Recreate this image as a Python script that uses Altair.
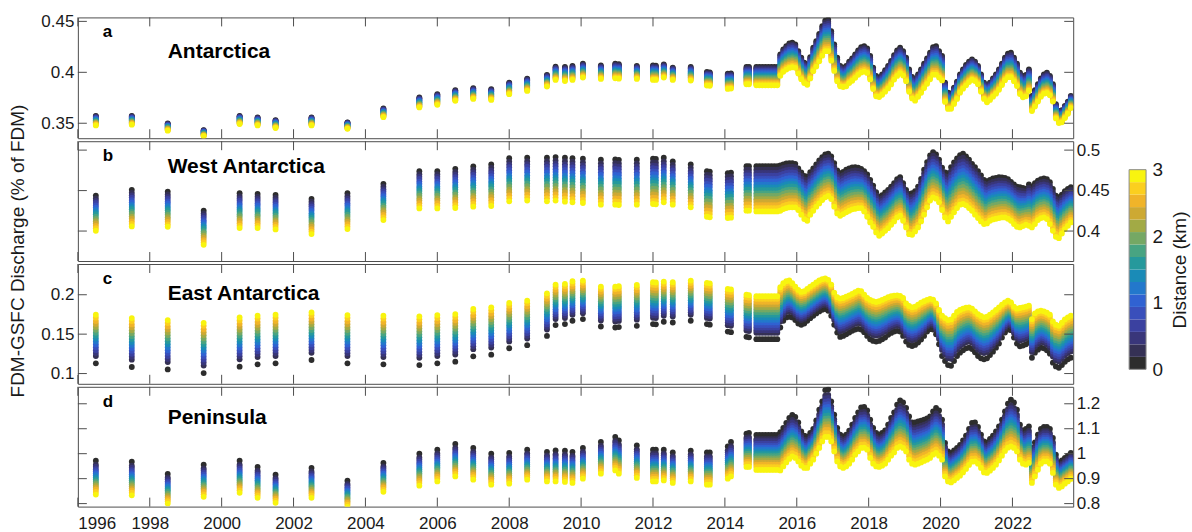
import altair as alt
import pandas as pd

alt.data_transformers.disable_max_rows()

FONT = "Liberation Sans"
W = 997

# ---------------- time axes ----------------
years_sparse = [1996.5, 1997.5, 1998.5, 1999.5, 2000.5, 2001.0, 2001.5, 2002.5, 2003.5, 2004.5,
                2005.5, 2006.0, 2006.5, 2007.0, 2007.5, 2008.0, 2008.5, 2009.05, 2009.29, 2009.55,
                2009.76, 2010.05, 2010.55, 2010.95, 2011.05, 2011.55, 2012.0, 2012.08, 2012.3, 2012.55,
                2013.05, 2013.5, 2013.58, 2014.08, 2014.17, 2014.6, 2014.67]
years_dense = [round(2014.875 + k / 12, 4) for k in range(106)]  # monthly samples

x_ticks = [1996, 1998, 2000, 2002, 2004, 2006, 2008, 2010, 2012, 2014, 2016, 2018, 2020, 2022]

# distance classes (km) and colours
dist_km = [0.0, 0.2, 0.4, 0.6, 0.8, 1.0, 1.2, 1.4, 1.6, 1.8, 2.0, 2.2, 2.4, 2.6, 2.8, 3.0]
palette = ["#2d2d2d", "#353155", "#39367a", "#3b41a0", "#394fbb", "#3062d2", "#2378cc", "#1a8bb7",
           "#26999c", "#48a482", "#75a864", "#a2aa45", "#cda933", "#f0b429", "#fbcf1f", "#f8f40f"]

# ---------------- panel a : Antarctica ----------------
a_sp_d0 = [0.3573, 0.3573, 0.3499, 0.3433, 0.3573, 0.3557, 0.3531, 0.3557, 0.3509, 0.3645,
           0.3753, 0.3785, 0.3824, 0.3844, 0.3834, 0.3899, 0.3938, 0.3974, 0.4055, 0.4052,
           0.4062, 0.4085, 0.4068, 0.4085, 0.4080, 0.4062, 0.4068, 0.4065, 0.4078, 0.4046,
           0.4052, 0.4003, 0.4000, 0.3987, 0.3990, 0.4052, 0.4052]
a_sp_d3 = [0.3479, 0.3486, 0.3427, 0.3372, 0.3492, 0.3479, 0.3453, 0.3479, 0.3446, 0.3560,
           0.3655, 0.3681, 0.3720, 0.3739, 0.3729, 0.3785, 0.3817, 0.3860, 0.3925, 0.3915,
           0.3925, 0.3948, 0.3935, 0.3941, 0.3938, 0.3935, 0.3925, 0.3925, 0.3948, 0.3925,
           0.3919, 0.3870, 0.3868, 0.3837, 0.3840, 0.3883, 0.3883]
a_dn_d0 = [0.4052, 0.4052, 0.4052, 0.4052, 0.4052, 0.4052, 0.4052, 0.4052, 0.4176, 0.4225,
           0.4257, 0.4283, 0.4290, 0.4274, 0.4208, 0.4143, 0.4094, 0.4078, 0.4150, 0.4241,
           0.4306, 0.4378, 0.4453, 0.4508, 0.4518, 0.4404, 0.4274, 0.4143, 0.4062, 0.4046,
           0.4062, 0.4104, 0.4137, 0.4176, 0.4215, 0.4247, 0.4257, 0.4234, 0.4160, 0.4046,
           0.3964, 0.3948, 0.3980, 0.4020, 0.4062, 0.4111, 0.4169, 0.4215, 0.4241, 0.4208,
           0.4143, 0.4029, 0.3954, 0.3932, 0.3980, 0.4029, 0.4085, 0.4137, 0.4192, 0.4247,
           0.4257, 0.4208, 0.4160, 0.3899, 0.3801, 0.3792, 0.3850, 0.3909, 0.3980, 0.4029,
           0.4072, 0.4104, 0.4127, 0.4104, 0.4062, 0.3980, 0.3899, 0.3866, 0.3899, 0.3941,
           0.3980, 0.4029, 0.4085, 0.4143, 0.4182, 0.4192, 0.4143, 0.4085, 0.3997, 0.3964,
           0.3974, 0.4029, 0.3769, 0.3824, 0.3883, 0.3941, 0.3980, 0.3997, 0.3964, 0.3883,
           0.3687, 0.3622, 0.3629, 0.3671, 0.3713, 0.3769]
a_dn_spread = [0.018, 0.018, 0.018, 0.018, 0.018, 0.018, 0.018, 0.018, 0.021, 0.022,
               0.023, 0.024, 0.024, 0.023, 0.022, 0.021, 0.020, 0.020, 0.021, 0.023,
               0.025, 0.027, 0.029, 0.030, 0.031, 0.029, 0.026, 0.023, 0.020, 0.019,
               0.020, 0.021, 0.022, 0.023, 0.024, 0.025, 0.025, 0.024, 0.023, 0.021,
               0.020, 0.019, 0.020, 0.021, 0.022, 0.023, 0.024, 0.025, 0.025, 0.024,
               0.023, 0.022, 0.021, 0.021, 0.022, 0.023, 0.024, 0.025, 0.026, 0.027,
               0.028, 0.026, 0.024, 0.019, 0.016, 0.015, 0.016, 0.017, 0.018, 0.019,
               0.020, 0.020, 0.020, 0.019, 0.018, 0.017, 0.016, 0.016, 0.017, 0.018,
               0.019, 0.020, 0.021, 0.022, 0.023, 0.024, 0.023, 0.022, 0.021, 0.021,
               0.021, 0.021, 0.015, 0.016, 0.017, 0.018, 0.019, 0.020, 0.019, 0.017,
               0.014, 0.012, 0.012, 0.012, 0.012, 0.012]

# ---------------- panel b : West Antarctica ----------------
b_sp_d0 = [0.4438, 0.4509, 0.4488, 0.4252, 0.4467, 0.4459, 0.4447, 0.4397, 0.4467, 0.4583,
           0.4740, 0.4740, 0.4769, 0.4798, 0.4823, 0.4901, 0.4906, 0.4906, 0.4914, 0.4906,
           0.4901, 0.4893, 0.4881, 0.4885, 0.4880, 0.4881, 0.4893, 0.4890, 0.4906, 0.4860,
           0.4823, 0.4740, 0.4735, 0.4715, 0.4720, 0.4802, 0.4802]
b_sp_d3 = [0.4004, 0.4057, 0.4053, 0.3830, 0.4037, 0.4037, 0.4020, 0.3963, 0.4024, 0.4136,
           0.4280, 0.4280, 0.4285, 0.4301, 0.4310, 0.4367, 0.4376, 0.4367, 0.4376, 0.4363,
           0.4355, 0.4347, 0.4326, 0.4326, 0.4322, 0.4326, 0.4334, 0.4330, 0.4355, 0.4326,
           0.4293, 0.4177, 0.4170, 0.4161, 0.4165, 0.4252, 0.4252]
b_dn_d0 = [0.4802, 0.4802, 0.4802, 0.4802, 0.4802, 0.4802, 0.4802, 0.4802, 0.4811, 0.4823,
           0.4835, 0.4840, 0.4840, 0.4831, 0.4773, 0.4724, 0.4682, 0.4674, 0.4728, 0.4773,
           0.4823, 0.4873, 0.4914, 0.4947, 0.4955, 0.4922, 0.4840, 0.4749, 0.4716, 0.4732,
           0.4757, 0.4773, 0.4786, 0.4790, 0.4782, 0.4769, 0.4740, 0.4699, 0.4633, 0.4562,
           0.4480, 0.4426, 0.4443, 0.4476, 0.4509, 0.4550, 0.4591, 0.4641, 0.4666, 0.4591,
           0.4509, 0.4459, 0.4467, 0.4492, 0.4550, 0.4645, 0.4757, 0.4852, 0.4935, 0.4976,
           0.4947, 0.4881, 0.4782, 0.4724, 0.4716, 0.4790, 0.4848, 0.4897, 0.4939, 0.4955,
           0.4922, 0.4881, 0.4831, 0.4790, 0.4740, 0.4687, 0.4633, 0.4616, 0.4633, 0.4649,
           0.4658, 0.4666, 0.4662, 0.4658, 0.4641, 0.4608, 0.4575, 0.4550, 0.4542, 0.4534,
           0.4525, 0.4575, 0.4550, 0.4591, 0.4624, 0.4641, 0.4649, 0.4641, 0.4604, 0.4521,
           0.4438, 0.4418, 0.4451, 0.4492, 0.4521, 0.4542]
b_dn_d3 = [0.4243, 0.4243, 0.4243, 0.4243, 0.4243, 0.4243, 0.4243, 0.4243, 0.4251, 0.4272,
           0.4284, 0.4293, 0.4293, 0.4293, 0.4260, 0.4202, 0.4148, 0.4127, 0.4202, 0.4251,
           0.4301, 0.4342, 0.4384, 0.4417, 0.4433, 0.4396, 0.4301, 0.4218, 0.4189, 0.4210,
           0.4231, 0.4251, 0.4268, 0.4276, 0.4284, 0.4284, 0.4243, 0.4177, 0.4107, 0.4053,
           0.3983, 0.3941, 0.3970, 0.4003, 0.4036, 0.4078, 0.4119, 0.4169, 0.4189, 0.4127,
           0.4045, 0.3962, 0.3954, 0.3995, 0.4045, 0.4119, 0.4202, 0.4293, 0.4376, 0.4417,
           0.4400, 0.4355, 0.4260, 0.4169, 0.4119, 0.4177, 0.4231, 0.4284, 0.4326, 0.4334,
           0.4318, 0.4284, 0.4251, 0.4202, 0.4160, 0.4119, 0.4086, 0.4094, 0.4127, 0.4144,
           0.4152, 0.4160, 0.4169, 0.4169, 0.4152, 0.4127, 0.4086, 0.4053, 0.4045, 0.4061,
           0.4078, 0.4065, 0.4045, 0.4086, 0.4136, 0.4160, 0.4169, 0.4148, 0.4086, 0.4003,
           0.3929, 0.3912, 0.3970, 0.4024, 0.4065, 0.4107]

# ---------------- panel c : East Antarctica ----------------
c_sp_d0 = [0.1130, 0.1083, 0.1053, 0.1006, 0.1087, 0.1117, 0.1130, 0.1172, 0.1130, 0.1117,
           0.1108, 0.1130, 0.1151, 0.1219, 0.1240, 0.1321, 0.1360, 0.1478, 0.1615, 0.1628,
           0.1670, 0.1691, 0.1597, 0.1584, 0.1590, 0.1606, 0.1628, 0.1625, 0.1657, 0.1648,
           0.1670, 0.1628, 0.1620, 0.1533, 0.1525, 0.1466, 0.1460]
c_sp_d3 = [0.1746, 0.1704, 0.1679, 0.1644, 0.1712, 0.1734, 0.1746, 0.1776, 0.1742, 0.1734,
           0.1725, 0.1742, 0.1755, 0.1819, 0.1840, 0.1896, 0.1925, 0.2018, 0.2129, 0.2138,
           0.2171, 0.2180, 0.2104, 0.2104, 0.2110, 0.2125, 0.2159, 0.2155, 0.2167, 0.2159,
           0.2180, 0.2151, 0.2145, 0.2074, 0.2068, 0.2001, 0.1995]
c_dn_d0 = [0.1436, 0.1436, 0.1436, 0.1436, 0.1436, 0.1436, 0.1436, 0.1436, 0.1584, 0.1669,
           0.1712, 0.1720, 0.1712, 0.1678, 0.1635, 0.1618, 0.1635, 0.1669, 0.1703, 0.1733,
           0.1763, 0.1788, 0.1810, 0.1818, 0.1797, 0.1733, 0.1618, 0.1520, 0.1465, 0.1478,
           0.1499, 0.1520, 0.1542, 0.1559, 0.1567, 0.1559, 0.1525, 0.1478, 0.1435, 0.1414,
           0.1406, 0.1414, 0.1435, 0.1457, 0.1491, 0.1516, 0.1533, 0.1542, 0.1533, 0.1478,
           0.1406, 0.1363, 0.1350, 0.1363, 0.1393, 0.1431, 0.1478, 0.1533, 0.1563, 0.1559,
           0.1499, 0.1372, 0.1223, 0.1159, 0.1108, 0.1099, 0.1159, 0.1223, 0.1265, 0.1295,
           0.1320, 0.1329, 0.1312, 0.1269, 0.1223, 0.1193, 0.1180, 0.1193, 0.1235, 0.1278,
           0.1329, 0.1380, 0.1457, 0.1520, 0.1559, 0.1550, 0.1457, 0.1380, 0.1346, 0.1355,
           0.1372, 0.1393, 0.1201, 0.1265, 0.1303, 0.1329, 0.1320, 0.1295, 0.1252, 0.1138,
           0.1091, 0.1074, 0.1108, 0.1150, 0.1180, 0.1201]
c_dn_d3 = [0.1981, 0.1981, 0.1981, 0.1981, 0.1981, 0.1981, 0.1981, 0.1981, 0.2095, 0.2147,
           0.2172, 0.2181, 0.2147, 0.2104, 0.2061, 0.2036, 0.2044, 0.2074, 0.2104, 0.2129,
           0.2155, 0.2181, 0.2198, 0.2206, 0.2189, 0.2129, 0.2027, 0.1968, 0.1951, 0.1959,
           0.1976, 0.1993, 0.2010, 0.2032, 0.2053, 0.2044, 0.2002, 0.1959, 0.1934, 0.1917,
           0.1908, 0.1917, 0.1934, 0.1951, 0.1968, 0.1981, 0.1989, 0.1993, 0.1985, 0.1959,
           0.1891, 0.1857, 0.1840, 0.1849, 0.1874, 0.1900, 0.1917, 0.1934, 0.1947, 0.1938,
           0.1891, 0.1806, 0.1734, 0.1704, 0.1679, 0.1687, 0.1734, 0.1781, 0.1806, 0.1823,
           0.1836, 0.1840, 0.1823, 0.1789, 0.1755, 0.1730, 0.1713, 0.1721, 0.1747, 0.1777,
           0.1806, 0.1840, 0.1874, 0.1904, 0.1925, 0.1904, 0.1849, 0.1823, 0.1832, 0.1840,
           0.1849, 0.1862, 0.1691, 0.1764, 0.1789, 0.1798, 0.1789, 0.1772, 0.1747, 0.1662,
           0.1619, 0.1606, 0.1645, 0.1687, 0.1713, 0.1734]

# ---------------- panel d : Peninsula ----------------
d_sp_d0 = [0.972, 0.968, 0.919, 0.956, 0.972, 0.947, 0.916, 0.943, 0.892, 0.963,
           1.000, 1.016, 1.039, 1.023, 1.000, 1.003, 1.016, 1.007, 1.013, 1.012,
           1.007, 1.023, 1.047, 1.067, 1.053, 1.033, 1.016, 1.016, 1.016, 1.005,
           1.012, 1.005, 1.005, 1.029, 1.047, 1.080, 1.083]
d_sp_d3 = [0.836, 0.833, 0.800, 0.827, 0.843, 0.823, 0.803, 0.823, 0.787, 0.847,
           0.872, 0.889, 0.909, 0.896, 0.876, 0.880, 0.896, 0.889, 0.889, 0.887,
           0.883, 0.900, 0.920, 0.933, 0.920, 0.903, 0.889, 0.889, 0.893, 0.883,
           0.889, 0.876, 0.876, 0.900, 0.909, 0.947, 0.947]
d_dn_d0 = [1.075, 1.075, 1.075, 1.075, 1.075, 1.075, 1.075, 1.075, 1.086, 1.103,
           1.123, 1.143, 1.155, 1.147, 1.125, 1.089, 1.072, 1.069, 1.083, 1.099,
           1.133, 1.176, 1.209, 1.255, 1.258, 1.209, 1.156, 1.103, 1.076, 1.069,
           1.076, 1.092, 1.116, 1.143, 1.165, 1.185, 1.187, 1.173, 1.136, 1.103,
           1.083, 1.076, 1.083, 1.093, 1.116, 1.143, 1.165, 1.196, 1.213, 1.205,
           1.183, 1.149, 1.125, 1.125, 1.129, 1.132, 1.136, 1.141, 1.149, 1.169,
           1.183, 1.173, 1.136, 1.043, 1.009, 1.003, 1.013, 1.023, 1.035, 1.053,
           1.072, 1.099, 1.123, 1.125, 1.107, 1.076, 1.049, 1.045, 1.059, 1.072,
           1.089, 1.109, 1.136, 1.169, 1.200, 1.216, 1.205, 1.176, 1.116, 1.093,
           1.099, 1.109, 1.023, 1.045, 1.076, 1.099, 1.107, 1.107, 1.099, 1.063,
           0.996, 0.965, 0.973, 0.983, 0.992, 1.003]
d_dn_d3 = [0.935, 0.935, 0.935, 0.935, 0.935, 0.935, 0.935, 0.935, 0.933, 0.949,
           0.965, 0.979, 0.989, 0.983, 0.969, 0.952, 0.943, 0.943, 0.960, 0.976,
           1.000, 1.023, 1.049, 1.067, 1.067, 1.049, 1.009, 0.969, 0.949, 0.943,
           0.949, 0.960, 0.976, 0.996, 1.009, 1.023, 1.024, 1.016, 0.983, 0.960,
           0.949, 0.947, 0.952, 0.960, 0.976, 0.992, 1.005, 1.023, 1.029, 1.023,
           1.009, 0.976, 0.960, 0.956, 0.960, 0.965, 0.971, 0.976, 0.983, 0.996,
           1.003, 0.992, 0.976, 0.909, 0.889, 0.885, 0.893, 0.903, 0.912, 0.925,
           0.939, 0.955, 0.968, 0.969, 0.960, 0.943, 0.925, 0.923, 0.932, 0.943,
           0.956, 0.973, 0.992, 1.011, 1.024, 1.029, 1.023, 1.009, 0.976, 0.960,
           0.956, 0.963, 0.883, 0.909, 0.936, 0.960, 0.969, 0.969, 0.960, 0.923,
           0.876, 0.863, 0.869, 0.880, 0.889, 0.899]

# relative position of each distance class between the 0 km and 3 km values
prof_a = [0, .067, .133, .2, .267, .333, .4, .467, .533, .6, .667, .733, .8, .867, .933, 1]
prof_b = [0, .08, .15, .21, .28, .34, .41, .47, .53, .6, .66, .73, .79, .86, .93, 1]
prof_c = [0, .15, .21, .27, .33, .39, .45, .51, .57, .63, .69, .75, .81, .87, .94, 1]
prof_d = [0, .12, .18, .25, .31, .37, .43, .49, .55, .61, .67, .73, .79, .85, .92, 1]

for arr in [a_dn_d0, a_dn_spread, b_dn_d0, b_dn_d3, c_dn_d0, c_dn_d3, d_dn_d0, d_dn_d3]:
    assert len(arr) == len(years_dense), len(arr)
for arr in [a_sp_d0, a_sp_d3, b_sp_d0, b_sp_d3, c_sp_d0, c_sp_d3, d_sp_d0, d_sp_d3]:
    assert len(arr) == len(years_sparse), len(arr)

a_dn_d3 = [v - s for v, s in zip(a_dn_d0, a_dn_spread)]


def panel_df(prof, parts):
    rows = []
    for j, f in enumerate(prof):
        for ts, d0, d3 in parts:
            for t, v0, v3 in zip(ts, d0, d3):
                rows.append({"t": t, "v": v0 + f * (v3 - v0), "di": j})
    return pd.DataFrame(rows)


df_a = panel_df(prof_a, [(years_sparse, a_sp_d0, a_sp_d3), (years_dense, a_dn_d0, a_dn_d3)])
df_b = panel_df(prof_b, [(years_sparse, b_sp_d0, b_sp_d3), (years_dense, b_dn_d0, b_dn_d3)])
df_c = panel_df(prof_c, [(years_sparse, c_sp_d0, c_sp_d3), (years_dense, c_dn_d0, c_dn_d3)])
df_d = panel_df(prof_d, [(years_sparse, d_sp_d0, d_sp_d3), (years_dense, d_dn_d0, d_dn_d3)])

cscale = alt.Scale(domain=list(range(16)), range=palette)
TICK = dict(color="#4d4d4d", strokeWidth=1)
TXT = "#1a1a1a"


def panel(df, dom, yvals, orient, letter, name, name_y, h, show_x, extra=()):
    if show_x:
        X = alt.X("t:Q", scale=alt.Scale(domain=[1996, 2023.69], nice=False, zero=False),
                  axis=alt.Axis(values=x_ticks, format="d", ticks=False, tickSize=0, domain=False,
                                grid=False, labelFontSize=17, labelPadding=9, title=None))
    else:
        X = alt.X("t:Q", scale=alt.Scale(domain=[1996, 2023.69], nice=False, zero=False), axis=None)
    Y = alt.Y("v:Q", scale=alt.Scale(domain=dom, nice=False, zero=False),
              axis=alt.Axis(orient=orient, values=yvals, format="~g", ticks=False, tickSize=0,
                            domain=False, grid=False, labelFontSize=17,
                            labelPadding=4 if orient == "left" else 3, title=None))
    pts = alt.Chart(df).mark_circle(size=34, opacity=1, clip=True).encode(
        x=X, y=Y, color=alt.Color("di:O", scale=cscale, legend=None), order=alt.Order("di:Q"))
    xt = pd.DataFrame({"t": x_ticks})
    yt = pd.DataFrame({"v": yvals})
    top = alt.Chart(xt).mark_rule(**TICK).encode(x=X, y=alt.value(0), y2=alt.value(9))
    bot = alt.Chart(xt).mark_rule(**TICK).encode(x=X, y=alt.value(h - 9), y2=alt.value(h))
    lft = alt.Chart(yt).mark_rule(**TICK).encode(y=Y, x=alt.value(0), x2=alt.value(9))
    rgt = alt.Chart(yt).mark_rule(**TICK).encode(y=Y, x=alt.value(W - 9), x2=alt.value(W))
    lab = alt.Chart(pd.DataFrame({"s": [letter]})).mark_text(
        align="left", baseline="middle", fontSize=17, fontWeight="bold", font=FONT, color="#000000"
    ).encode(text="s:N", x=alt.value(25), y=alt.value(15))
    ttl = alt.Chart(pd.DataFrame({"s": [name]})).mark_text(
        align="left", baseline="middle", fontSize=21, fontWeight="bold", font=FONT, color="#000000"
    ).encode(text="s:N", x=alt.value(90), y=alt.value(name_y))
    return alt.layer(pts, top, bot, lft, rgt, lab, ttl, *extra).properties(
        width=W, height=h, view=alt.ViewBackground(stroke="#4d4d4d", strokeWidth=1))


ytitle = alt.Chart(pd.DataFrame({"s": ["FDM-GSFC Discharge (% of FDM)"]})).mark_text(
    align="center", baseline="middle", angle=270, fontSize=19, font=FONT, color=TXT
).encode(text="s:N", x=alt.value(-60), y=alt.value(-13))

pa = panel(df_a, [0.3353, 0.4539], [0.35, 0.4, 0.45], "left", "a", "Antarctica", 35, 121, False)
pb = panel(df_b, [0.363, 0.511], [0.4, 0.45, 0.5], "right", "b", "West Antarctica", 26, 120, False)
pc = panel(df_c, [0.087, 0.239], [0.1, 0.15, 0.2], "left", "c", "East Antarctica", 30, 120, False,
           extra=(ytitle,))
pd_ = panel(df_d, [0.788, 1.268], [0.8, 0.9, 1.0, 1.1, 1.2], "right", "d", "Peninsula", 31, 120, True)

stack = alt.vconcat(pa, pb, pc, pd_, spacing=3, bounds="flush")

# ---------------- colour bar ----------------
band_lo = [i * 3 / 16 for i in range(16)]
band_hi = [(i + 1) * 3 / 16 for i in range(16)]
cb_df = pd.DataFrame({"lo": band_lo, "hi": band_hi, "di": list(range(16))})
CBY = alt.Y("lo:Q", scale=alt.Scale(domain=[-2.2875, 5.2875], nice=False, zero=False),
            axis=alt.Axis(orient="right", values=[0, 1, 2, 3], format="d", ticks=False, tickSize=0,
                          domain=False, grid=False, labelFontSize=19, labelPadding=6,
                          title="Distance (km)", titleFontSize=19, titleFontWeight="normal",
                          titleAngle=270, titleX=33, titleBaseline="middle", titleAlign="center"))
cb = alt.Chart(cb_df).mark_rect().encode(
    y=CBY, y2="hi:Q", color=alt.Color("di:O", scale=cscale, legend=None))
cb_border = alt.Chart(pd.DataFrame({"lo": [0.0], "hi": [3.0]})).mark_rect(
    fillOpacity=0, stroke="#8c8c8c", strokeWidth=1).encode(y=CBY, y2="hi:Q")
cbar = alt.layer(cb, cb_border).properties(
    width=17, height=505, view=alt.ViewBackground(stroke="transparent"))

chart = alt.hconcat(stack, cbar, spacing=18).properties(
    padding={"left": 8, "top": 11, "right": 2, "bottom": 0}
).configure(background="white").configure_axis(
    labelFont=FONT, titleFont=FONT, labelColor=TXT, titleColor=TXT
).configure_text(font=FONT)

chart.save("out.html", embed_options={"renderer": "svg", "actions": False})
